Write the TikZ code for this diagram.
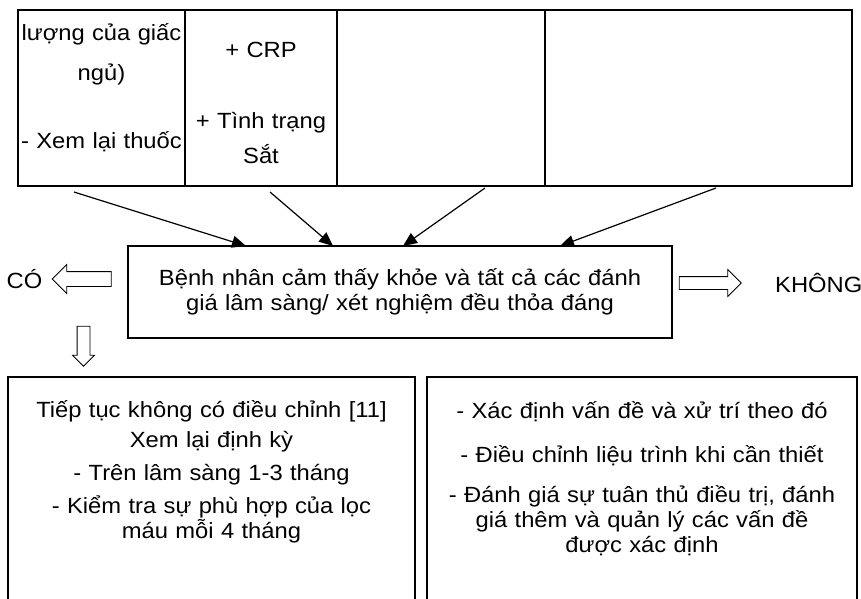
\documentclass[tikz,border=0pt]{standalone}
\usepackage{fontspec}
\setmainfont{Liberation Sans}[FakeStretch=1.08]
\usetikzlibrary{positioning,arrows.meta,shapes.arrows}

\begin{document}
\begin{tikzpicture}[x=1pt,y=-1pt,>={Triangle[length=14pt,width=12pt]},
                    font=\fontsize{22}{25}\selectfont,
                    every node/.style={inner sep=0pt,outer sep=0pt},
                    cell/.style={draw,line width=1.6pt,minimum height=176pt,anchor=north west},
                    panel/.style={draw,line width=1.6pt,minimum height=240pt,anchor=north west},
                    txt/.style={text width=440pt,align=center,anchor=base},
                    hollow/.style={draw,single arrow,single arrow head extend=7pt,line width=0.8pt}]
    \useasboundingbox (0,0) rectangle (861,598);

    \node[cell,minimum width=167pt] (c1) at (18,10) {};
    \node[cell,minimum width=152pt] (c2) at (185,10) {};
    \node[cell,minimum width=208pt] (c3) at (337,10) {};
    \node[cell,minimum width=307pt] (c4) at (545,10) {};
    \node[txt] (t1) at (101.5,40) {lượng của giấc\\[15pt]ngủ)\\[43pt]- Xem lại thuốc};
    \node[txt] (t2) at (261,57) {+ CRP\\[46pt]+ Tình trạng\\[10pt]Sắt};

    \node[draw,line width=1.6pt,minimum width=544pt,minimum height=92pt,
          text width=540pt,align=center] (mid) at (400,292)
        {Bệnh nhân cảm thấy khỏe và tất cả các đánh\\giá lâm sàng/ xét nghiệm đều thỏa đáng};

    \coordinate (s1) at (74,192);
    \coordinate (s2) at (270,192);
    \coordinate (s3) at (485,188);
    \coordinate (s4) at (716,188);
    \path[->,line width=1.2pt] (s1) edge ([xshift=118pt]mid.north west)
                               (s2) edge ([xshift=205pt]mid.north west)
                               (s3) edge ([xshift=275pt]mid.north west)
                               (s4) edge ([xshift=432pt]mid.north west);

    \node[hollow,shape border rotate=180,inner sep=7pt,minimum height=59pt] (yesarr) at (85.5,279) {};
    \node (yes) [left=10pt of yesarr] {CÓ};
    \node[hollow,inner sep=6pt,minimum height=62pt] (noarr) at (707,283) {};
    \node (no) [right=34pt of noarr] {KHÔNG};
    \node[hollow,shape border rotate=270,inner sep=6pt,minimum height=40pt,
          single arrow head extend=4.5pt] (down) at (83.5,343) {};

    \node[panel,minimum width=407pt] (keep) at (8,377) {};
    \node[panel,minimum width=430pt] (fix) at (427,377) {};
    \node[txt] (kt) at (211.5,417) {Tiếp tục không có điều chỉnh [11]\\[5pt]Xem lại định kỳ\\[8pt]- Trên lâm sàng 1-3 tháng\\[8pt]- Kiểm tra sự phù hợp của lọc\\máu mỗi 4 tháng};
    \node[txt] (ft) at (642,418) {- Xác định vấn đề và xử trí theo đó\\[19pt]- Điều chỉnh liệu trình khi cần thiết\\[15pt]- Đánh giá sự tuân thủ điều trị, đánh\\giá thêm và quản lý các vấn đề\\được xác định};
\end{tikzpicture}
\end{document}
